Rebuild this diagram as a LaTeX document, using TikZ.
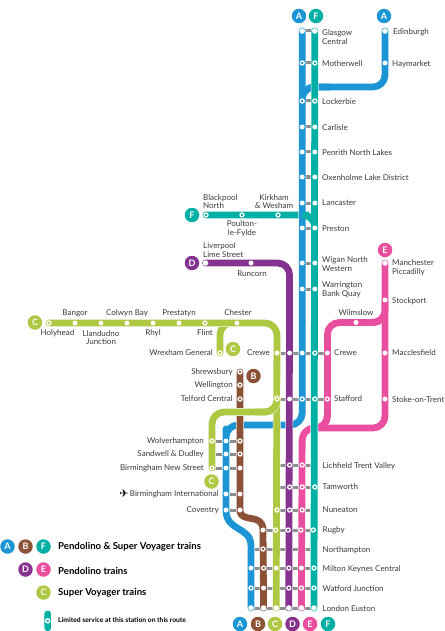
\documentclass[tikz,border=0pt]{standalone}
\usepackage{fontspec}
\setmainfont{Lato}
\newfontfamily\symbolfont{DejaVu Sans}
\usetikzlibrary{backgrounds}
\definecolor{routeA}{RGB}{27,149,212}
\definecolor{routeB}{RGB}{140,82,56}
\definecolor{routeC}{RGB}{175,200,67}
\definecolor{routeD}{RGB}{134,51,143}
\definecolor{routeE}{RGB}{233,78,159}
\definecolor{routeF}{RGB}{0,176,165}
\definecolor{railgrey}{RGB}{139,141,143}
\definecolor{labelgrey}{RGB}{58,58,58}

\begin{document}
\begin{tikzpicture}[
    x=1pt, y=-1pt,
    node distance=12.6pt,
    stopfull/.style={circle, fill=white, inner sep=0pt, minimum size=5pt},
    stopopen/.style={circle, draw=white, line width=1.3pt, inner sep=0pt, minimum size=4pt},
    stopend/.style={circle, fill=white, inner sep=0pt, minimum size=5.6pt},
    badge/.style={circle, fill=#1, text=white, inner sep=0pt, minimum size=14.5pt, font=\fontsize{9}{9}\selectfont\bfseries},
    lblr/.style={anchor=west, inner sep=0pt, text=labelgrey, text height=6.8pt, text depth=1pt, font=\fontsize{8}{8.7}\selectfont},
    lbll/.style={anchor=east, inner sep=0pt, text=labelgrey, text height=6.8pt, text depth=1pt, font=\fontsize{8}{8.7}\selectfont},
    lblc/.style={anchor=center, inner sep=0pt, text=labelgrey, text height=6.8pt, text depth=1pt, font=\fontsize{8}{8.7}\selectfont},
    lbltwo/.style={anchor=west, inner sep=0pt, align=left, text=labelgrey, font=\fontsize{8}{8.7}\selectfont},
    lblmid/.style={anchor=center, inner sep=0pt, align=center, text=labelgrey, font=\fontsize{8}{8.7}\selectfont},
    legendtxt/.style={anchor=west, inner sep=0pt, text=black, font=\fontsize{9.6}{9.6}\selectfont\bfseries},
    conn/.style={draw=railgrey, line width=3pt},
    route/.style={draw=white, double=#1, double distance=6.8pt, line width=.5pt, line cap=round, line join=round, rounded corners=12pt},
    joint/.style={draw=#1, line width=6.8pt, rounded corners=12pt}
]
    \useasboundingbox (0,0) rectangle (444,631);

    \node[stopend] (glasA) at (302.2,31) {};
    \node[stopend, right of=glasA] (glasF) {};
    \node[stopopen] (mothA) at (302.2,63) {};
    \node[stopopen, right of=mothA] (mothF) {};
    \node[stopopen] (lockA) at (302.2,101) {};
    \node[stopopen, right of=lockA] (lockF) {};
    \node[stopfull] (carlA) at (302.2,127) {};
    \node[stopfull, right of=carlA] (carlF) {};
    \node[stopfull] (penrA) at (302.2,152) {};
    \node[stopfull, right of=penrA] (penrF) {};
    \node[stopfull] (oxenA) at (302.2,177) {};
    \node[stopfull, right of=oxenA] (oxenF) {};
    \node[stopfull] (lancA) at (302.2,203) {};
    \node[stopfull, right of=lancA] (lancF) {};
    \node[stopfull] (presA) at (302.2,228) {};
    \node[stopfull, right of=presA] (presF) {};
    \node[stopfull] (wigaA) at (302.2,263) {};
    \node[stopfull, right of=wigaA] (wigaF) {};
    \node[stopfull] (warrA) at (302.2,289) {};
    \node[stopfull, right of=warrA] (warrF) {};

    \node[stopend] (edinA) at (385,31) {};
    \node[stopfull] (haymA) at (385,63) {};

    \node[stopopen] (blacF) at (206,215) {};
    \node[stopopen] (poulF) at (242,215) {};
    \node[stopopen] (kirkF) at (278,215) {};

    \node[stopend] (limeD) at (205.5,263) {};
    \node[stopfull] (runcD) at (251,263) {};

    \node[stopopen] (holyC) at (49,323) {};
    \node[stopfull] (bangC) at (75,323) {};
    \node[stopfull] (colwC) at (101,323) {};
    \node[stopfull] (llanC) at (127,323) {};
    \node[stopfull] (rhylC) at (153,323) {};
    \node[stopfull] (presC) at (179,323) {};
    \node[stopopen] (flinC) at (205,323) {};
    \node[stopfull] (chesC) at (237,323) {};
    \node[stopopen] (wrexC) at (220,353) {};

    \node[stopend] (manE) at (385,263) {};
    \node[stopfull] (stocE) at (385,300) {};
    \node[stopfull] (maccE) at (385,353) {};
    \node[stopfull] (stokE) at (385,399) {};
    \node[stopfull] (wilmE) at (356,322.5) {};

    \node[stopfull] (crewC) at (277,353) {};
    \node[stopfull, right of=crewC] (crewD) {};
    \node[stopfull, right of=crewD] (crewA) {};
    \node[stopopen, right of=crewA] (crewF) {};
    \node[stopfull, right of=crewF] (crewE) {};

    \node[stopopen] (stafC) at (277,399) {};
    \node[stopfull, right of=stafC] (stafD) {};
    \node[stopopen, right of=stafD] (stafA) {};
    \node[stopopen, right of=stafA] (stafF) {};
    \node[stopopen, right of=stafF] (stafE) {};

    \node[stopopen] (shreB) at (240,372) {};
    \node[stopopen] (wellB) at (240,385) {};
    \node[stopopen] (telfB) at (240,399) {};

    \node[stopopen] (wolvC) at (212,441) {};
    \node[stopfull] (wolvA) at (226,441) {};
    \node[stopopen] (wolvB) at (240,441) {};
    \coordinate (sandC) at (212,454);
    \node[stopfull] (sandA) at (226,454) {};
    \node[stopopen] (sandB) at (240,454) {};
    \node[stopopen] (bnsC) at (212,468) {};
    \node[stopfull] (bnsA) at (226,468) {};
    \node[stopfull] (bnsB) at (240,468) {};
    \node[stopfull] (intlA) at (226,494) {};
    \node[stopfull] (intlB) at (240,494) {};
    \node[stopfull] (covA) at (226,510) {};
    \node[stopfull] (covB) at (240,510) {};

    \coordinate (lichC) at (277,465);
    \node[stopopen, right of=lichC] (lichD) {};
    \node[stopopen, right of=lichD] (lichE) {};
    \coordinate (lichF) at (314.8,465);
    \coordinate (tamwC) at (277,487);
    \node[stopopen, right of=tamwC] (tamwD) {};
    \node[stopopen, right of=tamwD] (tamwE) {};
    \node[stopopen, right of=tamwE] (tamwF) {};
    \node[stopopen] (nuneC) at (277,510) {};
    \node[stopopen, right of=nuneC] (nuneD) {};
    \node[stopopen, right of=nuneD] (nuneE) {};
    \coordinate (nuneF) at (314.8,510);
    \node[stopfull] (rugbB) at (263,530) {};
    \node[stopopen, right of=rugbB] (rugbC) {};
    \node[stopopen, right of=rugbC] (rugbD) {};
    \node[stopopen, right of=rugbD] (rugbE) {};
    \node[stopopen, right of=rugbE] (rugbF) {};
    \coordinate (nortA) at (251,549);
    \node[stopopen] (nortB) at (263,549) {};
    \coordinate (nortF) at (314.8,549);
    \node[stopfull] (mkeyA) at (251,568) {};
    \node[stopopen, right of=mkeyA] (mkeyB) {};
    \node[stopfull, right of=mkeyB] (mkeyC) {};
    \node[stopopen, right of=mkeyC] (mkeyD) {};
    \node[stopfull, right of=mkeyD] (mkeyE) {};
    \node[stopopen, right of=mkeyE] (mkeyF) {};
    \node[stopopen] (watfA) at (251,588) {};
    \node[stopfull, right of=watfA] (watfB) {};
    \node[stopopen, right of=watfB, xshift=12.6pt] (watfD) {};
    \node[stopopen, right of=watfD] (watfE) {};
    \node[stopopen, right of=watfE] (watfF) {};
    \node[stopend] (eustA) at (251,608) {};
    \node[stopend, right of=eustA] (eustB) {};
    \node[stopend, right of=eustB] (eustC) {};
    \node[stopend, right of=eustC] (eustD) {};
    \node[stopend, right of=eustD] (eustE) {};
    \node[stopend, right of=eustE] (eustF) {};

    \coordinate (edinBendS) at (385,87);
    \coordinate (edinBendW) at (302.2,87);
    \coordinate (edinJoin) at (330,87);
    \coordinate (blacJoin) at (309,215);
    \coordinate (blacBend) at (314.8,215);
    \coordinate (limeBend) at (289.6,263);
    \coordinate (holyBend) at (277,323);
    \coordinate (wrexBend) at (220,323);
    \coordinate (loopBendE) at (277,412);
    \coordinate (loopBendW) at (212,412);
    \coordinate (loopJoin) at (255,412);
    \coordinate (southBendE) at (302.2,425);
    \coordinate (southBendW) at (226,425);
    \coordinate (southA) at (251,546);
    \coordinate (manBendS) at (385,428);
    \coordinate (manBendW) at (302.2,428);
    \coordinate (wilmBendE) at (385,322.5);
    \coordinate (wilmBendW) at (327.4,322.5);
    \coordinate (stafBend) at (327.4,428);
    \coordinate (stafJoin) at (314.8,428);

    \begin{pgfonlayer}{background}
        \draw[conn] (glasA.center) -- (glasF.center);
        \draw[conn] (mothA.center) -- (mothF.center);
        \draw[conn] (lockA.center) -- (lockF.center);
        \draw[conn] (carlA.center) -- (carlF.center);
        \draw[conn] (penrA.center) -- (penrF.center);
        \draw[conn] (oxenA.center) -- (oxenF.center);
        \draw[conn] (lancA.center) -- (lancF.center);
        \draw[conn] (presA.center) -- (presF.center);
        \draw[conn] (wigaA.center) -- (wigaF.center);
        \draw[conn] (warrA.center) -- (warrF.center);
        \draw[conn] (crewC.center) -- (crewE.center);
        \draw[conn] (stafC.center) -- (stafE.center);
        \draw[conn] (wolvC.center) -- (wolvB.center);
        \draw[conn] (sandC) -- (sandB.center);
        \draw[conn] (bnsC.center) -- (bnsB.center);
        \draw[conn] (intlA.center) -- (intlB.center);
        \draw[conn] (covA.center) -- (covB.center);
        \draw[conn] (lichC) -- (lichF);
        \draw[conn] (tamwC) -- (tamwF.center);
        \draw[conn] (nuneC.center) -- (nuneF);
        \draw[conn] (rugbB.center) -- (rugbF.center);
        \draw[conn] (nortA) -- (nortF);
        \draw[conn] (mkeyA.center) -- (mkeyF.center);
        \draw[conn] (watfA.center) -- (watfF.center);
        \draw[conn] (eustA.center) -- (eustF.center);

        \draw[route=routeF] (blacF.center) -- (poulF.center) -- (kirkF.center) -- (blacBend) -- (presF.center);
        \draw[route=routeA] (edinA.center) -- (haymA.center) -- (edinBendS) -- (edinBendW) -- (lockA.center);
        \draw[route=routeA] (glasA.center) -- (stafA.center) -- (southBendE) -- (southBendW) -- (wolvA.center) [sharp corners] -- (covA.center)
            .. controls (226,532) and (251,526) .. (southA) -- (eustA.center);
        \draw[joint=routeA] (edinJoin) -- (edinBendW) -- (lockA.center);
        \draw[route=routeB, sharp corners] (shreB.center) -- (covB.center)
            .. controls (240,524) and (263,512) .. (rugbB.center) -- (eustB.center);
        \draw[route=routeC] (chesC.center) -- (wrexBend) -- (wrexC.center);
        \draw[route=routeC] (holyC.center) -- (holyBend) -- (eustC.center);
        \draw[route=routeC] (bnsC.center) -- (wolvC.center) -- (loopBendW) -- (loopBendE) -- (stafC.center);
        \draw[joint=routeC] (chesC.center) -- (flinC.center);
        \draw[joint=routeC] (loopJoin) -- (loopBendE) -- (stafC.center);
        \draw[route=routeD] (limeD.center) -- (limeBend) -- (eustD.center);
        \draw[route=routeE] (stocE.center) -- (wilmBendE) -- (wilmBendW) -- (stafBend) -- (stafJoin);
        \draw[route=routeE] (manE.center) -- (manBendS) -- (manBendW) -- (eustE.center);
        \draw[joint=routeE] (stocE.center) -- (wilmBendE) -- (wilmE.center);
        \draw[joint=routeE] (stafE.center) -- (stafBend) -- (stafJoin);
        \draw[route=routeF] (glasF.center) -- (eustF.center);
        \draw[joint=routeF] (blacJoin) -- (blacBend) -- (presF.center);
    \end{pgfonlayer}

    \node[badge=routeA] (badgeAtop) at (299,16) {A};
    \node[badge=routeF] (badgeFtop) at (316,16) {F};
    \node[badge=routeA] (badgeAedin) at (384,16) {A};
    \node[badge=routeF] (badgeFblac) at (192,215) {F};
    \node[badge=routeD] (badgeDlime) at (192,263) {D};
    \node[badge=routeC] (badgeChol) at (35,322.5) {C};
    \node[badge=routeC] (badgeCwrex) at (233,349) {C};
    \node[badge=routeB] (badgeBshre) at (253.5,376) {B};
    \node[badge=routeE] (badgeEman) at (385,250) {E};
    \node[badge=routeC] (badgeCbns) at (211.5,481.5) {C};
    \node[badge=routeA] (badgeAend) at (240,624) {A};
    \node[badge=routeB] (badgeBend) at (258,624) {B};
    \node[badge=routeC] (badgeCend) at (275,624) {C};
    \node[badge=routeD] (badgeDend) at (292.5,624) {D};
    \node[badge=routeE] (badgeEend) at (310,624) {E};
    \node[badge=routeF] (badgeFend) at (328,624) {F};

    \node[lbltwo] (lblGlas) at (322,37) {Glasgow\\Central};
    \node[lblr] (lblMoth) at (322,63.5) {Motherwell};
    \node[lblr] (lblLock) at (322,102) {Lockerbie};
    \node[lblr] (lblCarl) at (322,127.5) {Carlisle};
    \node[lblr] (lblPenr) at (322,152.5) {Penrith North Lakes};
    \node[lblr] (lblOxen) at (322,177.5) {Oxenholme Lake District};
    \node[lblr] (lblLanc) at (322,203) {Lancaster};
    \node[lblr] (lblPres) at (322,229) {Preston};
    \node[lbltwo] (lblWiga) at (322,264) {Wigan North\\Western};
    \node[lbltwo] (lblWarr) at (322,289.5) {Warrington\\Bank Quay};
    \node[lblr] (lblEdin) at (393,32) {Edinburgh};
    \node[lblr] (lblHaym) at (392,64) {Haymarket};
    \node[lbltwo] (lblBlac) at (203,201.5) {Blackpool\\North};
    \node[lblmid] (lblKirk) at (274,201.5) {Kirkham\\\& Wesham};
    \node[lblmid] (lblPoul) at (242,229) {Poulton-\\le-Fylde};
    \node[lbltwo] (lblLime) at (203,250) {Liverpool\\Lime Street};
    \node[lblc] (lblRunc) at (252,274) {Runcorn};
    \node[lblc] (lblBang) at (75,313) {Bangor};
    \node[lblc] (lblColw) at (127,313) {Colwyn Bay};
    \node[lblc] (lblPrst) at (179,313) {Prestatyn};
    \node[lblc] (lblChes) at (238,313) {Chester};
    \node[lblc] (lblHoly) at (57.5,333) {Holyhead};
    \node[lblmid] (lblLlan) at (101,337.5) {Llandudno\\Junction};
    \node[lblc] (lblRhyl) at (153,333) {Rhyl};
    \node[lblc] (lblFlin) at (205,333) {Flint};
    \node[lbll] (lblWrex) at (213,353) {Wrexham General};
    \node[lbll] (lblCrwl) at (270,353) {Crewe};
    \node[lblr] (lblCrwr) at (334,353) {Crewe};
    \node[lblr] (lblStaf) at (334,399) {Stafford};
    \node[lblc] (lblWilm) at (356,312.5) {Wilmslow};
    \node[lbltwo] (lblManc) at (392,268) {Manchester\\Piccadilly};
    \node[lblr] (lblStoc) at (392,300.5) {Stockport};
    \node[lblr] (lblMacc) at (392,353) {Macclesfield};
    \node[lblr] (lblStok) at (392,399.5) {Stoke-on-Trent};
    \node[lbll] (lblShre) at (233,372) {Shrewsbury};
    \node[lbll] (lblWell) at (233,385) {Wellington};
    \node[lbll] (lblTelf) at (233,398.5) {Telford Central};
    \node[lbll] (lblWolv) at (204,441) {Wolverhampton};
    \node[lbll] (lblSand) at (204,454) {Sandwell \& Dudley};
    \node[lbll] (lblBns) at (204,468) {Birmingham New Street};
    \node[lbll] (lblIntl) at (219,494) {Birmingham International};
    \node[inner sep=0pt, text=black, font=\fontsize{11}{11}\selectfont] (planeIcon) at (124,494) {\symbolfont ✈};
    \node[lbll] (lblCov) at (219,510) {Coventry};
    \node[lblr] (lblLich) at (322.5,465.5) {Lichfield Trent Valley};
    \node[lblr] (lblTamw) at (322.5,487) {Tamworth};
    \node[lblr] (lblNune) at (322.5,510) {Nuneaton};
    \node[lblr] (lblRugb) at (322.5,530) {Rugby};
    \node[lblr] (lblNort) at (322.5,549.5) {Northampton};
    \node[lblr] (lblMkey) at (322.5,568.5) {Milton Keynes Central};
    \node[lblr] (lblWatf) at (322.5,588.5) {Watford Junction};
    \node[lblr] (lblEust) at (322.5,608.5) {London Euston};

    \node[badge=routeA] (legA) at (7.5,546.5) {A};
    \node[badge=routeB] (legB) at (25.5,546.5) {B};
    \node[badge=routeF] (legF) at (43.5,546.5) {F};
    \node[badge=routeD] (legD) at (25.5,569.5) {D};
    \node[badge=routeE] (legE) at (43.5,569.5) {E};
    \node[badge=routeC] (legC) at (43.5,592.5) {C};
    \node[legendtxt] (txtAll) at (58,547) {Pendolino \& Super Voyager trains};
    \node[legendtxt] (txtPend) at (58,570.5) {Pendolino trains};
    \node[legendtxt] (txtVoy) at (58,593) {Super Voyager trains};
    \node[rectangle, rounded corners=3pt, fill=routeF, inner sep=0pt, minimum width=6.5pt, minimum height=20.5pt] (legBar) at (47.7,620.8) {};
    \node[stopopen] (legStop) at (47.7,620.8) {};
    \node[legendtxt, font=\fontsize{6.75}{6.75}\selectfont\bfseries] (txtLtd) at (58,620.5) {Limited service at this station on this route};
\end{tikzpicture}
\end{document}
